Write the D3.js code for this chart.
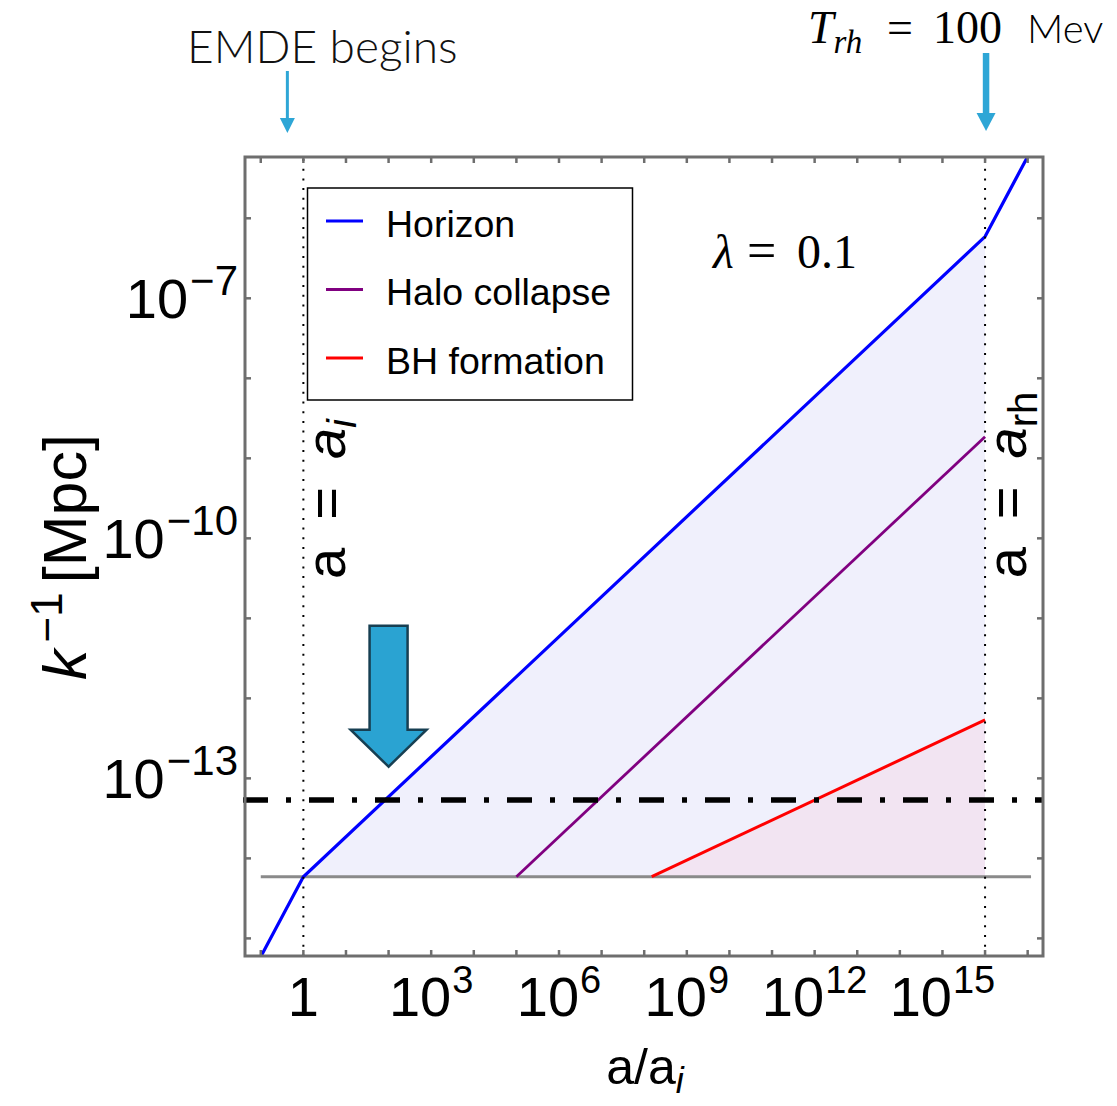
<!DOCTYPE html>
<html>
<head>
<meta charset="utf-8">
<script src="https://cdn.jsdelivr.net/npm/d3@7"></script>
<style>
  body { margin: 0; background: #fff; }
</style>
</head>
<body>
<svg id="chart" width="1117" height="1106"></svg>
<script>
// ---- data: comoving scales k^-1 [Mpc] versus a/a_i ----
const horizonA = [0.1, 1, 1e16, 2e17];
const horizonK = [5.9e-16, 5.9e-15, 5.9e-7, 1.18e-5];
const haloA = [1e5, 1e16];
const haloK = [5.9e-15, 1.86e-9];
const bhA = [1.5e8, 1e16];
const bhK = [5.9e-15, 5.37e-13];
const floorA = [0.1, 1.2e17];
const floorK = [5.9e-15, 5.9e-15];
const cutoffK = 5.37e-14;          // dash-dot reference scale
const aBegin = 1, aRh = 1e16;      // EMDE start and reheating
const xTickExp = d3.range(-1, 18);
const xLabelExp = [0, 3, 6, 9, 12, 15];
const yTickExp = d3.range(-15, -5);
const yLabelExp = [-7, -10, -13];
const legendNames = ["Horizon", "Halo collapse", "BH formation"];
const legendColors = ["#0000ff", "#800080", "#ff0000"];
const arrowTip = [100, 1.4e-13];

const SANS = "'Liberation Sans', Arial, sans-serif";
const SERIF = "'Liberation Serif', 'DejaVu Serif', serif";
const LIGHT = "Lato, 'Open Sans', sans-serif";

const svg = d3.select("#chart").style("font-family", SANS);
const L = 245, R = 1043, T = 157, B = 956;
const x = d3.scaleLog().domain([10 ** -1.37, 10 ** 17.36]).range([L, R]);
const y = d3.scaleLog().domain([10 ** -15.22, 10 ** -5.234]).range([B, T]);

svg.append("defs").append("clipPath").attr("id", "plotClip")
  .append("rect").attr("x", L).attr("y", T).attr("width", R - L).attr("height", B - T);

const plot = svg.append("g").attr("clip-path", "url(#plotClip)");
const line = d3.line().x(d => x(d[0])).y(d => y(d[1]));
const zip = (A, K) => A.map((a, i) => [a, K[i]]);

// shaded region between floor and horizon during EMDE
const horizonEMDE = zip(horizonA, horizonK).filter(d => d[0] >= aBegin && d[0] <= aRh);
const lavender = horizonEMDE.concat([[aRh, floorK[0]], [aBegin, floorK[0]]]);
plot.append("path").attr("d", line(lavender) + "Z").attr("fill", "#f0f0fc");
// shaded region below BH formation line
const pink = zip(bhA, bhK).concat([[bhA[1], floorK[0]]]);
plot.append("path").attr("d", line(pink) + "Z").attr("fill", "#f2e4f2");

// floor line
plot.append("path").attr("d", line(zip(floorA, floorK)))
  .attr("fill", "none").attr("stroke", "#8a8a8a").attr("stroke-width", 3);

// curves
plot.append("path").attr("d", line(zip(horizonA, horizonK)))
  .attr("fill", "none").attr("stroke", legendColors[0]).attr("stroke-width", 3.2);
plot.append("path").attr("d", line(zip(haloA, haloK)))
  .attr("fill", "none").attr("stroke", legendColors[1]).attr("stroke-width", 2.8);
plot.append("path").attr("d", line(zip(bhA, bhK)))
  .attr("fill", "none").attr("stroke", legendColors[2]).attr("stroke-width", 3);

// dash-dot reference line
svg.append("line")
  .attr("x1", 243).attr("x2", R).attr("y1", y(cutoffK)).attr("y2", y(cutoffK))
  .attr("stroke", "#000").attr("stroke-width", 5.5)
  .attr("stroke-dasharray", "25 18 5 18");

// vertical dotted markers
[aBegin, aRh].forEach(a => {
  svg.append("line")
    .attr("x1", x(a)).attr("x2", x(a)).attr("y1", T + 2).attr("y2", B)
    .attr("stroke", "#000").attr("stroke-width", 2)
    .attr("stroke-dasharray", "2 7.7");
});

// frame and inward ticks on all sides
const frameColor = "#6e6e6e";
const tickLen = 6;
const ticks = svg.append("g").attr("stroke", frameColor).attr("stroke-width", 2.5);
xTickExp.forEach(e => {
  const px = x(10 ** e);
  ticks.append("line").attr("x1", px).attr("x2", px).attr("y1", B).attr("y2", B - tickLen);
  ticks.append("line").attr("x1", px).attr("x2", px).attr("y1", T).attr("y2", T + tickLen);
});
yTickExp.forEach(e => {
  const py = y(10 ** e);
  ticks.append("line").attr("x1", L).attr("x2", L + tickLen).attr("y1", py).attr("y2", py);
  ticks.append("line").attr("x1", R).attr("x2", R - tickLen).attr("y1", py).attr("y2", py);
});
svg.append("rect").attr("x", L).attr("y", T).attr("width", R - L).attr("height", B - T)
  .attr("fill", "none").attr("stroke", frameColor).attr("stroke-width", 3);

// tick labels
const powLabel = (sel, e, supSize, gap) => {
  if (e === 0) { sel.append("tspan").text("1"); return; }
  sel.append("tspan").text("10");
  sel.append("tspan").style("font-size", supSize + "px").attr("dx", gap).attr("dy", -23)
    .text(e < 0 ? "\u2212" + (-e) : String(e));
};
xLabelExp.forEach(e => {
  const t = svg.append("text").attr("x", x(10 ** e)).attr("y", 1016)
    .attr("text-anchor", "middle").style("font-size", "56px").attr("fill", "#000");
  powLabel(t, e, 38, 1);
});
yLabelExp.forEach(e => {
  const t = svg.append("text").attr("x", 238).attr("y", y(10 ** e) + 20)
    .attr("text-anchor", "end").style("font-size", "56px").attr("fill", "#000");
  powLabel(t, e, 42, 2);
});

// axis titles
const xt = svg.append("text").attr("x", 645).attr("y", 1084)
  .attr("text-anchor", "middle").style("font-size", "50px");
xt.append("tspan").text("a/a");
xt.append("tspan").style("font-style", "italic").style("font-size", "36px").attr("dy", 9).text("i");

const yt = svg.append("text").attr("transform", "translate(86,557) rotate(-90)")
  .attr("text-anchor", "middle").style("font-size", "61px");
yt.append("tspan").style("font-style", "italic").text("k");
yt.append("tspan").style("font-size", "44px").attr("dx", 7).attr("dy", -24).text("\u22121");
yt.append("tspan").attr("dx", 9).attr("dy", 24).text("[Mpc]");

// rotated marker labels
const ai = svg.append("text").attr("transform", `translate(${x(aBegin) + 42},499) rotate(-90)`)
  .attr("text-anchor", "middle").style("font-size", "56px");
ai.append("tspan").text("a\u2002=\u2002");
ai.append("tspan").style("font-style", "italic").text("a");
ai.append("tspan").style("font-style", "italic").style("font-size", "40px").attr("dy", 11).text("i");

const arh = svg.append("text").attr("transform", `translate(${x(aRh) + 41},485) rotate(-90)`)
  .attr("text-anchor", "middle").style("font-size", "56px");
arh.append("tspan").text("a\u2002=\u2002");
arh.append("tspan").style("font-style", "italic").text("a");
arh.append("tspan").style("font-size", "40px").attr("dy", 11).text("rh");

// lambda annotation
const lam = svg.append("text").attr("y", 268)
  .style("font-family", SERIF).style("font-size", "48px");
lam.append("tspan").attr("x", 713).style("font-style", "italic").text("\u03bb");
lam.append("tspan").attr("x", 747).style("font-size", "52px").text("=");
lam.append("tspan").attr("x", 797).text("0.1");

// legend
const lg = svg.append("g");
lg.append("rect").attr("x", 307.5).attr("y", 188).attr("width", 325).attr("height", 212)
  .attr("fill", "#fff").attr("stroke", "#000").attr("stroke-width", 1.5);
legendNames.forEach((n, i) => {
  const ly = 221 + i * 68.5;
  lg.append("line").attr("x1", 326).attr("x2", 363).attr("y1", ly).attr("y2", ly)
    .attr("stroke", legendColors[i]).attr("stroke-width", 3);
  lg.append("text").attr("x", 386).attr("y", ly + 15.5).style("font-size", "37.5px").text(n);
});

// big block arrow pointing to the horizon crossing
const tx = x(arrowTip[0]), ty = y(arrowTip[1]);
const arrowShape = [[0, 0], [-38, -37], [-19, -37], [-19, -141], [19, -141], [19, -37], [38, -37]];
svg.append("polygon")
  .attr("points", arrowShape.map(p => [tx + p[0], ty + p[1]].join(",")).join(" "))
  .attr("fill", "#2aa3d2").attr("stroke", "#173f52").attr("stroke-width", 2.5)
  .attr("stroke-linejoin", "miter");

// top annotations
const cyan = "#2ea6d6";
svg.append("text").attr("x", 187).attr("y", 63)
  .style("font-family", LIGHT).style("font-weight", 300)
  .style("font-size", "46px").attr("fill", "#111").text("EMDE begins");
const ax1 = x(aBegin) - 16;
svg.append("line").attr("x1", ax1).attr("x2", ax1).attr("y1", 71).attr("y2", 120)
  .attr("stroke", cyan).attr("stroke-width", 3);
svg.append("polygon")
  .attr("points", `${ax1 - 7.5},118 ${ax1 + 7.5},118 ${ax1},133`).attr("fill", cyan);

const tr = svg.append("text").attr("y", 43).style("font-family", SERIF).style("font-size", "46px");
tr.append("tspan").attr("x", 808).style("font-style", "italic").text("T");
tr.append("tspan").style("font-style", "italic").style("font-size", "33px").attr("dy", 10).text("rh");
tr.append("tspan").attr("x", 887).attr("dy", -10).text("=");
tr.append("tspan").attr("x", 933).text("100");
tr.append("tspan").attr("x", 1027).style("font-family", LIGHT).style("font-weight", 300)
  .style("font-size", "40px").text("Mev");
const ax2 = x(aRh) + 1;
svg.append("line").attr("x1", ax2).attr("x2", ax2).attr("y1", 53).attr("y2", 115)
  .attr("stroke", cyan).attr("stroke-width", 6.5);
svg.append("polygon")
  .attr("points", `${ax2 - 9.5},113 ${ax2 + 9.5},113 ${ax2},131`).attr("fill", cyan);
</script>
</body>
</html>
